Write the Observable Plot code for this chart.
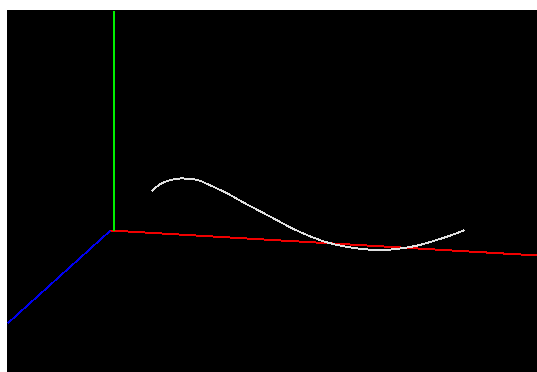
<!DOCTYPE html>
<html>
<head>
<meta charset="utf-8">
<script src="https://cdn.jsdelivr.net/npm/d3@7"></script>
<script src="https://cdn.jsdelivr.net/npm/@observablehq/plot@0.6"></script>
<style>
  html, body { margin: 0; padding: 0; background: #ffffff; }
  #chart { position: absolute; left: 7px; top: 10px; }
  #chart svg { display: block; }
</style>
</head>
<body>
<div id="chart"></div>
<script>
// Projected 3D axes (screen-space coordinates)
const axisNames = ["x", "y", "z"];
const axisColors = ["#f00000", "#00f000", "#0000f0"];
const axisFromX = [110, 113, 110];
const axisFromY = [230, 230, 230];
const axisToX = [537, 113, 7];
const axisToY = [255, 10, 323];

// Projected curve points
const curveX = [152, 160, 170, 180, 197, 210, 227, 243, 260, 277, 293, 310, 327, 347, 367, 383, 400, 417, 433, 450, 463];
const curveY = [190, 183.5, 179.5, 178, 179.5, 185, 193, 202, 211, 220, 228.5, 236, 242, 246.5, 249, 249.5, 248, 245, 240.5, 235, 230];

const axes = axisNames.map((name, i) => ({
  name, color: axisColors[i],
  x1: axisFromX[i], y1: axisFromY[i], x2: axisToX[i], y2: axisToY[i]
}));
const curve = curveX.map((x, i) => ({x, y: curveY[i]}));

const chart = Plot.plot({
  width: 530,
  height: 362,
  margin: 0,
  x: {domain: [7, 537], range: [0, 530], axis: null},
  y: {domain: [10, 372], range: [0, 362], axis: null},
  style: {background: "#000000"},
  marks: [
    Plot.link(axes, {x1: "x1", y1: "y1", x2: "x2", y2: "y2", stroke: "color", strokeWidth: d => d.name === "z" ? 2 : 2, shapeRendering: "crispEdges"}),
    Plot.line(curve, {x: "x", y: "y", stroke: "#e0e0e0", strokeWidth: 2, curve: "catmull-rom", shapeRendering: "crispEdges"})
  ]
});
document.getElementById("chart").appendChild(chart);
</script>
</body>
</html>
